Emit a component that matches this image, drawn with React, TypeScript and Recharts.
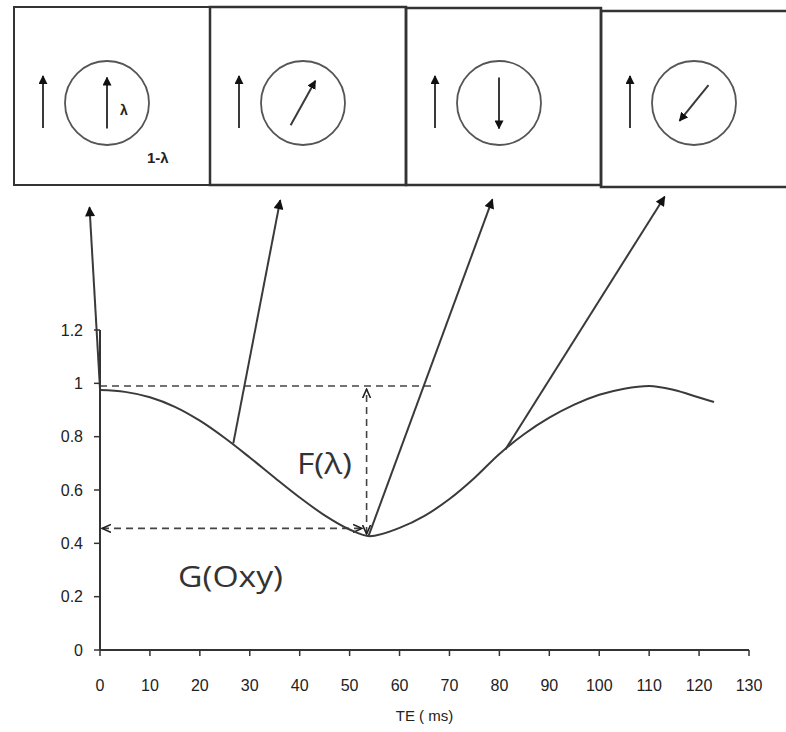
import { ComposedChart, Line, XAxis, YAxis, ReferenceLine } from 'recharts';

// TE in ms and normalised signal
const teMs = [0, 5, 10, 15, 20, 25, 30, 35, 40, 45, 50, 54, 60, 65, 70, 75, 80, 85, 90, 95, 100, 105, 110, 115, 120, 123];
const signal = [0.975, 0.968, 0.948, 0.912, 0.86, 0.795, 0.722, 0.646, 0.572, 0.505, 0.452, 0.427, 0.458, 0.503, 0.566, 0.645, 0.735, 0.81, 0.871, 0.92, 0.957, 0.98, 0.99, 0.975, 0.947, 0.93];

const xTicks = [0, 10, 20, 30, 40, 50, 60, 70, 80, 90, 100, 110, 120, 130];
const yTicks = [0, 0.2, 0.4, 0.6, 0.8, 1, 1.2];

// curve point -> spin box arrows (box end given in data units above the plot)
const pointerFrom = [
  { x: 0, y: 0.98 },
  { x: 26.7, y: 0.775 },
  { x: 53.8, y: 0.428 },
  { x: 81.2, y: 0.752 },
];
const pointerTo = [
  { x: -2.1, y: 1.66 },
  { x: 36.1, y: 1.687 },
  { x: 78.6, y: 1.69 },
  { x: 113.1, y: 1.7 },
];

// spin boxes on top
const boxX = [14, 210, 406, 601];
const boxY = [7, 7, 8, 11];
const boxW = [196, 196, 195, 190];
const boxH = [178, 178, 177, 176];
const spinAngle = [90, 61, -90, -129];

const data = teMs.map((t, i) => ({ te: t, s: signal[i] }));

const ink = '#3a3a3a';

function SpinArrow({ cx, cy, angle, len }: { cx: number; cy: number; angle: number; len: number }) {
  const a = (angle * Math.PI) / 180;
  const dx = (Math.cos(a) * len) / 2;
  const dy = (-Math.sin(a) * len) / 2;
  return <line x1={cx - dx} y1={cy - dy} x2={cx + dx} y2={cy + dy} stroke={ink} strokeWidth={2} markerEnd="url(#head)" />;
}

function Boxes() {
  return (
    <svg width={786} height={732} style={{ position: 'absolute', left: 0, top: 0, pointerEvents: 'none' }}>
      <defs>
        <marker id="head" viewBox="0 0 10 10" refX="9" refY="5" markerWidth="9" markerHeight="9" markerUnits="userSpaceOnUse" orient="auto">
          <path d="M0,0 L10,5 L0,10 z" fill="#111" />
        </marker>
        <marker id="bighead" viewBox="0 0 10 10" refX="9" refY="5" markerWidth="11" markerHeight="10" markerUnits="userSpaceOnUse" orient="auto">
          <path d="M0,0 L10,5 L0,10 z" fill="#111" />
        </marker>
        <marker id="open" viewBox="0 0 10 10" refX="9" refY="5" markerWidth="10" markerHeight="10" markerUnits="userSpaceOnUse" orient="auto-start-reverse">
          <path d="M0,1 L9,5 L0,9" fill="none" stroke="#222" strokeWidth={1.6} />
        </marker>
      </defs>
      {boxX.map((x, i) => {
        const cx = x + 93;
        const cy = 103;
        return (
          <g key={i}>
            <rect x={x} y={boxY[i]} width={boxW[i]} height={boxH[i]} fill="none" stroke="#333" strokeWidth={i === 0 ? 2 : 2.5} />
            <line x1={cx - 64} y1={128} x2={cx - 64} y2={76} stroke={ink} strokeWidth={2} markerEnd="url(#head)" />
            <circle cx={cx} cy={cy} r={42} fill="none" stroke="#555" strokeWidth={1.8} />
            <SpinArrow cx={cx} cy={cy} angle={spinAngle[i]} len={i === 3 ? 46 : 51} />
          </g>
        );
      })}
      <text x={120} y={115} fontFamily="Liberation Sans, Arial" fontWeight="bold" fontSize={14} fill="#222">λ</text>
      <text x={147} y={163} fontFamily="Liberation Sans, Arial" fontWeight="bold" fontSize={15} fill="#222">1-λ</text>
      <text x={297} y={474} fontFamily="Open Sans" fontSize={29} fill="#333" textLength={55} lengthAdjust="spacingAndGlyphs">F(λ)</text>
      <text x={178} y={587} fontFamily="Open Sans" fontSize={29} fill="#333" textLength={105} lengthAdjust="spacingAndGlyphs">G(Oxy)</text>
    </svg>
  );
}

export default function App() {
  return (
    <div style={{ position: 'absolute', left: 0, top: 0, width: 786, height: 732, background: '#fff' }}>
      <ComposedChart width={786} height={732} data={data} margin={{ top: 330, right: 37, bottom: 32, left: 40 }}>
        <XAxis
          dataKey="te"
          type="number"
          domain={[0, 130]}
          ticks={xTicks}
          interval={0}
          height={50}
          tickSize={6}
          tickMargin={24}
          axisLine={{ stroke: '#333', strokeWidth: 2 }}
          tickLine={{ stroke: '#333', strokeWidth: 1.5 }}
          tick={{ fill: '#222', fontSize: 16, fontFamily: 'Liberation Sans, Arial' }}
          label={{ value: 'TE ( ms)', position: 'bottom', offset: 10, fill: '#222', fontSize: 15, fontFamily: 'Liberation Sans, Arial' }}
        />
        <YAxis
          type="number"
          domain={[0, 1.2]}
          ticks={yTicks}
          interval={0}
          width={60}
          tickSize={6}
          tickMargin={11}
          axisLine={{ stroke: '#333', strokeWidth: 2 }}
          tickLine={{ stroke: '#333', strokeWidth: 1.5 }}
          tick={{ fill: '#222', fontSize: 16, fontFamily: 'Liberation Sans, Arial' }}
        />
        <ReferenceLine segment={[{ x: 0, y: 0.99 }, { x: 66.5, y: 0.99 }]} stroke="#444" strokeWidth={1.6} strokeDasharray="7 5" ifOverflow="visible" />
        <ReferenceLine
          segment={[{ x: 0.4, y: 0.456 }, { x: 52.5, y: 0.456 }]}
          stroke="#444"
          strokeWidth={1.6}
          strokeDasharray="7 5"
          ifOverflow="visible"
          markerStart="url(#open)"
          markerEnd="url(#open)"
        />
        <ReferenceLine
          segment={[{ x: 53.4, y: 0.435 }, { x: 53.4, y: 0.978 }]}
          stroke="#444"
          strokeWidth={1.6}
          strokeDasharray="7 5"
          ifOverflow="visible"
          markerStart="url(#open)"
          markerEnd="url(#open)"
        />
        {pointerFrom.map((p, i) => (
          <ReferenceLine
            key={i}
            segment={[p, pointerTo[i]]}
            stroke={ink}
            strokeWidth={2}
            ifOverflow="visible"
            markerEnd="url(#bighead)"
          />
        ))}
        <Line dataKey="s" type="monotone" stroke={ink} strokeWidth={2} dot={false} isAnimationActive={false} />
      </ComposedChart>
      <Boxes />
    </div>
  );
}
